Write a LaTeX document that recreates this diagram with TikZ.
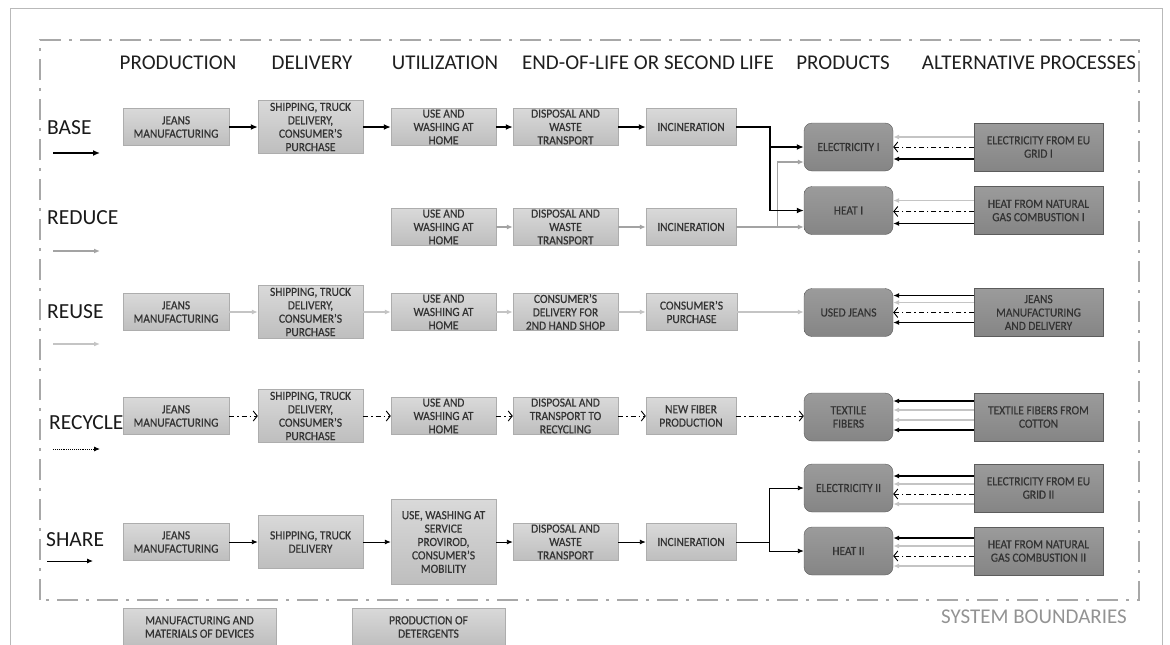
\documentclass[tikz,border=0pt]{standalone}
\usepackage{fontspec}
\setmainfont{Carlito}
\newfontfamily\boxfont[FakeStretch=0.92, FakeBold=0.5]{Carlito}
\usetikzlibrary{arrows.meta}

\definecolor{boxtop}{HTML}{D9D9D9}
\definecolor{boxbot}{HTML}{BEBEBE}
\definecolor{boxline}{HTML}{ADADAD}
\definecolor{prodtop}{HTML}{9B9B9B}
\definecolor{prodbot}{HTML}{858585}
\definecolor{prodline}{HTML}{5C5C5C}
\definecolor{txt}{HTML}{333333}
\definecolor{midgray}{HTML}{A3A3A3}
\definecolor{palegray}{HTML}{C4C4C4}
\definecolor{bound}{HTML}{A8A8A8}

\tikzset{
  proc/.style={draw=boxline, top color=boxtop, bottom color=boxbot, text=txt, align=center,
    inner sep=0pt, minimum width=105pt, minimum height=37pt, font=\boxfont\fontsize{12.4}{13.4}\selectfont},
  prod/.style={draw=prodline, top color=prodtop, bottom color=prodbot, rounded corners=8pt, text=txt,
    align=center, inner sep=0pt, minimum width=89pt, minimum height=48pt, font=\boxfont\fontsize{12.4}{13.4}\selectfont},
  alt/.style={prod, rounded corners=0pt, minimum width=129pt},
  header/.style={font=\fontsize{21}{24}\selectfont, text=black!88},
  rowlabel/.style={font=\fontsize{21.5}{26}\selectfont, anchor=west, inner sep=0pt, text=black!90},
  basearr/.style={line width=1.6pt, -{Latex[length=7pt,width=6pt]}},
  reducearr/.style={midgray, line width=1.2pt, -{Latex[length=6pt,width=5pt]}},
  reusearr/.style={palegray, line width=1.2pt, -{Latex[length=6pt,width=5pt]}},
  recyclearr/.style={line width=0.9pt, dash pattern=on 5pt off 3pt on 1.5pt off 3pt, -{Straight Barb[length=4pt,width=10pt]}},
  sharearr/.style={line width=0.9pt, -{Latex[length=6pt,width=5pt]}},
  altblack/.style={line width=1.2pt, -{Latex[length=6pt,width=5pt]}},
  altgray/.style={palegray, line width=1.2pt, -{Latex[length=6pt,width=5pt]}}
}

\begin{document}
\begin{tikzpicture}[x=1pt, y=-1pt]
  \useasboundingbox (0,0) rectangle (1170,645);
  \draw[gray!55, line width=0.8pt] (10,645) -- (10,8) -- (1162,8) -- (1162,645);
  \draw[bound, line width=2.5pt, dash pattern=on 21pt off 8pt on 3pt off 8pt] (40,600) -- (40,40) -- (1139,40) -- (1139,600) -- cycle;

  \node[header] (h1) at (178,63) {PRODUCTION};
  \node[header] (h2) at (312,63) {DELIVERY};
  \node[header] (h3) at (445,63) {UTILIZATION};
  \node[header] (h4) at (648,63) {END-OF-LIFE OR SECOND LIFE};
  \node[header] (h5) at (843,63) {PRODUCTS};
  \node[header] (h6) at (1029,63) {ALTERNATIVE PROCESSES};

  % scenarios
  \node[rowlabel] (lB) at (47,128) {BASE};
  \node[rowlabel] (lR) at (47,218) {REDUCE};
  \node[rowlabel] (lU) at (47,312) {REUSE};
  \node[rowlabel] (lC) at (49,423) {RECYCLE};
  \node[rowlabel] (lS) at (46,540) {SHARE};
  \coordinate (k1) at (53,153);
  \coordinate (k2) at (53,251);
  \coordinate (k3) at (53,344);
  \coordinate (k4) at (53,449);
  \coordinate (k5) at (47,561);
  \draw[basearr] (k1) -- ++(47,0);
  \draw[reducearr] (k2) -- ++(47,0);
  \draw[reusearr] (k3) -- ++(47,0);
  \draw[line width=0.9pt, densely dotted, -{Latex[length=6pt,width=5pt]}] (k4) -- ++(47,0);
  \draw[sharearr] (k5) -- ++(46,0);

  % base
  \node[proc, minimum width=106pt] (B1) at (176,127) {JEANS\\MANUFACTURING};
  \node[proc, minimum height=53pt] (B2) at (310.5,127) {SHIPPING, TRUCK\\DELIVERY,\\CONSUMER’S\\PURCHASE};
  \node[proc] (B3) at (443.5,127) {USE AND\\WASHING AT\\HOME};
  \node[proc] (B4) at (565.5,127) {DISPOSAL AND\\WASTE\\TRANSPORT};
  \node[proc, minimum width=90pt] (B5) at (691,127) {INCINERATION};

  % reduce
  \node[proc] (R3) at (443.5,227) {USE AND\\WASHING AT\\HOME};
  \node[proc] (R4) at (565.5,227) {DISPOSAL AND\\WASTE\\TRANSPORT};
  \node[proc, minimum width=90pt] (R5) at (691,227) {INCINERATION};

  % reuse
  \node[proc, minimum width=106pt] (U1) at (176,312) {JEANS\\MANUFACTURING};
  \node[proc, minimum height=53pt] (U2) at (310.5,312) {SHIPPING, TRUCK\\DELIVERY,\\CONSUMER’S\\PURCHASE};
  \node[proc] (U3) at (443.5,312) {USE AND\\WASHING AT\\HOME};
  \node[proc] (U4) at (565.5,312) {CONSUMER’S\\DELIVERY FOR\\2ND HAND SHOP};
  \node[proc, minimum width=91pt] (U5) at (691.5,312) {CONSUMER’S\\PURCHASE};

  % recycle
  \node[proc, minimum width=106pt] (C1) at (176,416) {JEANS\\MANUFACTURING};
  \node[proc, minimum height=53pt] (C2) at (310.5,416) {SHIPPING, TRUCK\\DELIVERY,\\CONSUMER’S\\PURCHASE};
  \node[proc] (C3) at (443.5,416) {USE AND\\WASHING AT\\HOME};
  \node[proc] (C4) at (565.5,416) {DISPOSAL AND\\TRANSPORT TO\\RECYCLING};
  \node[proc, minimum width=90pt] (C5) at (691,416) {NEW FIBER\\PRODUCTION};

  % share
  \node[proc, minimum width=106pt] (S1) at (176,542) {JEANS\\MANUFACTURING};
  \node[proc, minimum height=53pt] (S2) at (310.5,542) {SHIPPING, TRUCK\\DELIVERY};
  \node[proc, minimum height=85pt] (S3) at (443.5,542) {USE, WASHING AT\\SERVICE\\PROVIROD,\\CONSUMER’S\\MOBILITY};
  \node[proc] (S4) at (565.5,542) {DISPOSAL AND\\WASTE\\TRANSPORT};
  \node[proc, minimum width=90pt] (S5) at (691,542) {INCINERATION};

  % products and alternatives
  \node[prod] (E1) at (848.5,147) {ELECTRICITY I};
  \node[prod] (H1) at (848.5,210.5) {HEAT I};
  \node[prod] (J) at (848.5,312.5) {USED JEANS};
  \node[prod] (T) at (848.5,417) {TEXTILE\\FIBERS};
  \node[prod] (E2) at (848.5,488) {ELECTRICITY II};
  \node[prod] (H2) at (848.5,551) {HEAT II};

  \node[alt] (AE1) at (1038.5,147) {ELECTRICITY FROM EU\\GRID I};
  \node[alt] (AH1) at (1038.5,210.5) {HEAT FROM NATURAL\\GAS COMBUSTION I};
  \node[alt] (AJ) at (1038.5,312.5) {JEANS\\MANUFACTURING\\AND DELIVERY};
  \node[alt] (AT) at (1038.5,417) {TEXTILE FIBERS FROM\\COTTON};
  \node[alt] (AE2) at (1038.5,488) {ELECTRICITY FROM EU\\GRID II};
  \node[alt] (AH2) at (1038.5,551) {HEAT FROM NATURAL\\GAS COMBUSTION II};

  \node[proc, minimum width=153pt, minimum height=38pt] (M1) at (199.5,627) {MANUFACTURING AND\\MATERIALS OF DEVICES};
  \node[proc, minimum width=153pt, minimum height=38pt] (M2) at (428.5,627) {PRODUCTION OF\\DETERGENTS};
  \node[font=\fontsize{21}{25}\selectfont, text=gray!85] (sb) at (1034,617) {SYSTEM BOUNDARIES};

  % flows
  \draw[basearr] (B1) -- (B2);
  \draw[basearr] (B2) -- (B3);
  \draw[basearr] (B3) -- (B4);
  \draw[basearr] (B4) -- (B5);

  \draw[reducearr] (R3) -- (R4);
  \draw[reducearr] (R4) -- (R5);
  \draw[reducearr] (R5.east) -- ++(41,0) |- ([yshift=-15pt]E1.west);
  \draw[reducearr] (R5.east) -- (R5.east -| H1.west);
  \draw[basearr] (B5.east) -- ++(34,0) |- (E1.west);
  \draw[basearr] (B5.east) -- ++(34,0) |- (H1.west);

  \draw[reusearr] (U1) -- (U2);
  \draw[reusearr] (U2) -- (U3);
  \draw[reusearr] (U3) -- (U4);
  \draw[reusearr] (U4) -- (U5);
  \draw[reusearr] (U5.east) -- (U5.east -| J.west);

  \draw[recyclearr] (C1) -- (C2);
  \draw[recyclearr] (C2) -- (C3);
  \draw[recyclearr] (C3) -- (C4);
  \draw[recyclearr] (C4) -- (C5);
  \draw[recyclearr] (C5.east) -- (C5.east -| T.west);

  \draw[sharearr] (S1) -- (S2);
  \draw[sharearr] (S2) -- (S3);
  \draw[sharearr] (S3) -- (S4);
  \draw[sharearr] (S4) -- (S5);
  \draw[sharearr] (S5.east) -- ++(33,0) |- (E2.west);
  \draw[sharearr] (S5.east) -- ++(33,0) |- (H2.west);

  % avoided burdens
  \draw[altgray] ([yshift=10pt]AE1.west) -- ([yshift=10pt]E1.east);
  \draw[recyclearr] (AE1.west) -- (E1.east);
  \draw[altblack] ([yshift=-12pt]AE1.west) -- ([yshift=-12pt]E1.east);

  \draw[altgray] ([yshift=10pt]AH1.west) -- ([yshift=10pt]H1.east);
  \draw[recyclearr] ([yshift=-1pt]AH1.west) -- ([yshift=-1pt]H1.east);
  \draw[altblack] ([yshift=-13pt]AH1.west) -- ([yshift=-13pt]H1.east);

  \draw[altblack] ([yshift=17pt]AJ.west) -- ([yshift=17pt]J.east);
  \draw[altgray] ([yshift=10pt]AJ.west) -- ([yshift=10pt]J.east);
  \draw[recyclearr] (AJ.west) -- (J.east);
  \draw[altblack] ([yshift=-10pt]AJ.west) -- ([yshift=-10pt]J.east);

  \draw[altblack] ([yshift=16pt]AT.west) -- ([yshift=16pt]T.east);
  \draw[altgray] ([yshift=7pt]AT.west) -- ([yshift=7pt]T.east);
  \draw[altgray] ([yshift=-3pt]AT.west) -- ([yshift=-3pt]T.east);
  \draw[altblack] ([yshift=-13pt]AT.west) -- ([yshift=-13pt]T.east);

  \draw[altblack] ([yshift=12pt]AE2.west) -- ([yshift=12pt]E2.east);
  \draw[altgray] ([yshift=4pt]AE2.west) -- ([yshift=4pt]E2.east);
  \draw[recyclearr] ([yshift=-6pt]AE2.west) -- ([yshift=-6pt]E2.east);
  \draw[altgray] ([yshift=-16pt]AE2.west) -- ([yshift=-16pt]E2.east);

  \draw[altblack] ([yshift=13pt]AH2.west) -- ([yshift=13pt]H2.east);
  \draw[altgray] ([yshift=5pt]AH2.west) -- ([yshift=5pt]H2.east);
  \draw[recyclearr] ([yshift=-5pt]AH2.west) -- ([yshift=-5pt]H2.east);
  \draw[altgray] ([yshift=-15pt]AH2.west) -- ([yshift=-15pt]H2.east);
\end{tikzpicture}
\end{document}
